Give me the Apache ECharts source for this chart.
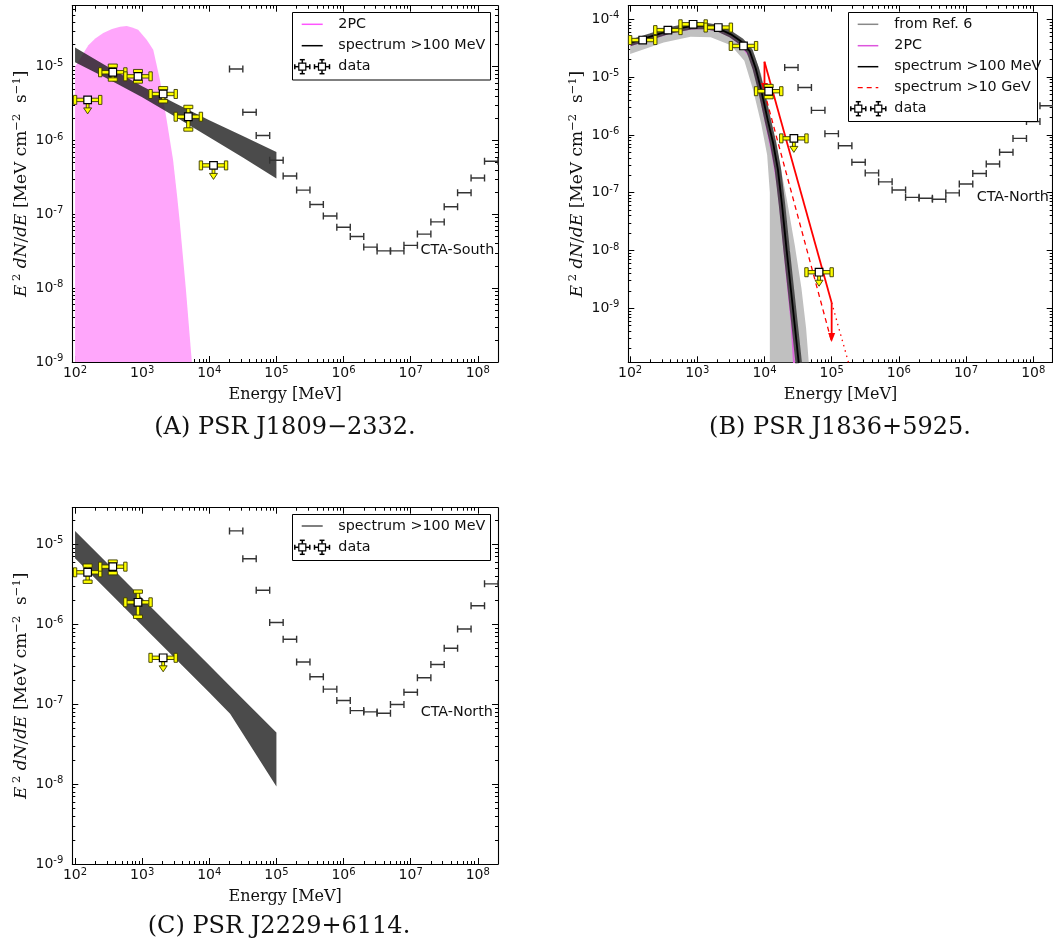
<!DOCTYPE html>
<html><head><meta charset="utf-8">
<script src="https://cdn.jsdelivr.net/npm/echarts@6/dist/echarts.min.js"></script>
<style>html,body{margin:0;padding:0;background:#fff}#c{width:1053px;height:945px}</style>
</head><body><div id="c"></div>
<script>
// ================= DATA =================
// CTA sensitivity bins (MeV) and curves (MeV cm^-2 s^-1)
const ctaBinLo = [2.0e4, 3.16e4, 5.0e4, 7.94e4, 1.26e5, 2.0e5, 3.16e5, 5.0e5, 7.94e5, 1.26e6, 2.0e6, 3.16e6, 5.0e6, 7.94e6, 1.26e7, 2.0e7, 3.16e7, 5.0e7, 7.94e7, 1.26e8];
const ctaBinHi = [3.16e4, 5.0e4, 7.94e4, 1.26e5, 2.0e5, 3.16e5, 5.0e5, 7.94e5, 1.26e6, 2.0e6, 3.16e6, 5.0e6, 7.94e6, 1.26e7, 2.0e7, 3.16e7, 5.0e7, 7.94e7, 1.26e8, 2.0e8];
const ctaSouth = [9.3e-6, 2.41e-6, 1.17e-6, 5.4e-7, 3.3e-7, 2.13e-7, 1.36e-7, 9.5e-8, 6.7e-8, 5.0e-8, 3.6e-8, 3.2e-8, 3.2e-8, 3.8e-8, 5.4e-8, 7.9e-8, 1.27e-7, 1.96e-7, 3.1e-7, 5.25e-7];
const ctaNorth = [1.47e-5, 6.6e-6, 2.66e-6, 1.05e-6, 6.5e-7, 3.37e-7, 2.2e-7, 1.54e-7, 1.11e-7, 8.3e-8, 8.0e-8, 7.7e-8, 9.9e-8, 1.41e-7, 2.14e-7, 3.13e-7, 5.0e-7, 8.7e-7, 1.7e-6, 3.2e-6];

// Fermi-LAT energy bins (MeV)
const binCenter = [154, 365, 866, 2054, 4870, 11548, 27384, 64938];
const binLo = [100, 237, 562, 1334, 3162, 7499, 17783, 42170];
const binHi = [237, 562, 1334, 3162, 7499, 17783, 42170, 100000];

// (A) PSR J1809-2332
const aFlux  = [3.55e-6, 8.4e-6, 7.4e-6, 4.27e-6, 2.1e-6, 4.6e-7];
const aErrLo = [null, 6.7e-6, 6.3e-6, 3.4e-6, 1.41e-6, null];
const aErrHi = [null, 1.03e-5, 8.7e-6, 5.1e-6, 2.85e-6, null];
const aUpperLimit = [true, false, false, false, false, true];
const a2pcE = [100, 126, 158, 200, 263, 355, 468, 589, 708, 871, 1175, 1462, 1841, 2317, 2884, 3311, 3631, 4467, 5495];
const a2pcF = [1.0e-5, 1.41e-5, 1.95e-5, 2.4e-5, 2.85e-5, 3.24e-5, 3.47e-5, 3.55e-5, 3.39e-5, 3.16e-5, 2.29e-5, 1.7e-5, 6.6e-6, 1.9e-6, 5.5e-7, 1.78e-7, 7.9e-8, 1.0e-8, 1.0e-9];
const aBandE  = [100, 316, 1000, 3162, 10000, 31623, 100000];
const aBandHi = [1.82e-5, 9.8e-6, 5.43e-6, 3.16e-6, 1.88e-6, 1.15e-6, 7.0e-7];
const aBandLo = [1.15e-5, 6.76e-6, 3.85e-6, 2.09e-6, 1.11e-6, 5.9e-7, 3.05e-7];

// (B) PSR J1836+5925
const bFlux  = [4.38e-5, 6.5e-5, 8.2e-5, 7.2e-5, 3.46e-5, 5.7e-6, 8.7e-7, 4.2e-9];
const bErrLo = [null, null, null, null, null, 4.5e-6, null, null];
const bErrHi = [null, null, null, null, null, 7.0e-6, null, null];
const bUpperLimit = [false, false, false, false, false, false, true, true];
const bFitE = [100, 200, 398, 794, 1259, 1995, 3162, 4467, 6026, 7413, 8913, 11220, 13490, 15850, 18200, 21380, 25120, 28840, 32360];
const bFitF = [3.89e-5, 5.01e-5, 6.46e-5, 7.59e-5, 7.76e-5, 7.08e-5, 5.5e-5, 4.17e-5, 2.82e-5, 1.41e-5, 6.03e-6, 1.78e-6, 7.08e-7, 2.51e-7, 6.3e-8, 1.0e-8, 1.78e-9, 3.98e-10, 1.12e-10];
const b2pcE = [100, 200, 398, 794, 1259, 1995, 3162, 4467, 6026, 7413, 8913, 11220, 13490, 15850, 18200, 21380, 25120, 27540];
const b2pcF = [3.55e-5, 4.57e-5, 5.89e-5, 6.92e-5, 7.08e-5, 6.46e-5, 5.01e-5, 3.63e-5, 2.29e-5, 1.07e-5, 4.17e-6, 1.12e-6, 3.98e-7, 1.26e-7, 2.82e-8, 3.98e-9, 6.31e-10, 1.12e-10];
const bRefHiE = [100, 316, 794, 1585, 3162, 5012, 7079, 8913, 10720, 15140, 21380, 28180, 35480, 41690, 45710];
const bRefHiF = [4.17e-5, 6.46e-5, 8.13e-5, 8.13e-5, 6.17e-5, 4.17e-5, 2.4e-5, 1.12e-5, 3.98e-6, 6.31e-7, 7.94e-8, 1.26e-8, 2.24e-9, 4.47e-10, 1.12e-10];
const bRefLoE = [100, 316, 794, 1585, 3162, 5012, 6761, 8913, 10960, 12020, 12020];
const bRefLoF = [2.51e-5, 3.98e-5, 5.01e-5, 4.9e-5, 3.55e-5, 1.91e-5, 6.03e-6, 1.58e-6, 4.47e-7, 1.0e-7, 1.12e-10];
const bHeUpperE = [1e4, 1e5];
const bHeUpperF = [1.85e-5, 1.25e-9];
const bHeBestE = [1e4, 1e5];
const bHeBestF = [5.5e-6, 2.6e-10];
const bHeExtrapE = [1e5, 1.8e5];
const bHeExtrapF = [1.25e-9, 1.1e-10];
const bArrowE = [1e4, 1e5];
const bArrowFrom = [1.85e-5, 1.25e-9];
const bArrowTo = [5.5e-6, 2.6e-10];

// (C) PSR J2229+6114
const cFlux  = [4.46e-6, 5.25e-6, 1.88e-6, 3.8e-7];
const cErrLo = [3.4e-6, 4.35e-6, 1.24e-6, null];
const cErrHi = [5.4e-6, 6.07e-6, 2.56e-6, null];
const cUpperLimit = [false, false, false, true];
const cBandE  = [100, 316, 1000, 3162, 10000, 20417, 31623, 100000];
const cBandHi = [1.47e-5, 5.57e-6, 2.12e-6, 8.05e-7, 3.06e-7, 1.68e-7, 1.16e-7, 4.43e-8];
const cBandLo = [6.68e-6, 2.54e-6, 9.66e-7, 3.67e-7, 1.40e-7, 7.6e-8, 4.27e-8, 9.3e-9];

// Tick values
const xMajorTicks = [1e2, 1e3, 1e4, 1e5, 1e6, 1e7, 1e8];
const yMajorTicksA = [1e-9, 1e-8, 1e-7, 1e-6, 1e-5];
const yMajorTicksB = [1e-9, 1e-8, 1e-7, 1e-6, 1e-5, 1e-4];
const yMajorTicksC = [1e-9, 1e-8, 1e-7, 1e-6, 1e-5];
const decadeStartsX = [1e1, 1e2, 1e3, 1e4, 1e5, 1e6, 1e7, 1e8];
const decadeStartsY = [1e-10, 1e-9, 1e-8, 1e-7, 1e-6, 1e-5, 1e-4];
const minorMultipliers = [2, 3, 4, 5, 6, 7, 8, 9];

// ================= CHART =================
const SERIF = "'DejaVu Serif', serif";
const SANS = "'DejaVu Sans', sans-serif";
const chart = echarts.init(document.getElementById('c'), null, {renderer: 'canvas'});

function minorTicks(starts, lo, hi) {
  const out = [];
  starts.forEach(d => minorMultipliers.forEach(k => { const v = k * d; if (v > lo && v < hi) out.push(v); }));
  return out;
}
const RICH = {
  b: {fontFamily: SANS, fontSize: 14, color: '#111', lineHeight: 17},
  s: {fontFamily: SANS, fontSize: 10, color: '#111', lineHeight: 9, verticalAlign: 'top'}
};
function powLabel(v) { const e = Math.round(Math.log10(v)); return '{b|10}{s|' + e + '}'; }

const grids = [
  {left: 72.3, top: 5.7, width: 425.7, height: 356.3},
  {left: 628.3, top: 5.7, width: 424.4, height: 356.6},
  {left: 72.3, top: 507.7, width: 425.7, height: 356.3}
];
const xRanges = [[91, 2e8], [94, 1.95e8], [91, 2e8]];
const yRanges = [[1e-9, 6.7e-5], [1.16e-10, 1.72e-4], [1e-9, 2.87e-5]];
const yMajors = [yMajorTicksA, yMajorTicksB, yMajorTicksC];
const yName = '{i|E}{s| 2}{n| }{i|dN}{n|/}{i|dE}{n| [MeV cm}{s|−2}{n|  s}{s|−1}{n|]}';
const yNameRich = {
  i: {fontFamily: SERIF, fontStyle: 'italic', fontSize: 17, color: '#111', lineHeight: 21},
  n: {fontFamily: SERIF, fontSize: 17, color: '#111', lineHeight: 21},
  s: {fontFamily: SERIF, fontSize: 11.5, color: '#111', lineHeight: 11, verticalAlign: 'top'}
};

const xAxes = [], yAxes = [];
const XI = [], YI = [];
const LINE = {show: true, lineStyle: {color: '#000', width: 1.1}};
grids.forEach((g, gi) => {
  const xr = xRanges[gi], yr = yRanges[gi];
  const bx = {gridIndex: gi, type: 'log', logBase: 10, min: xr[0], max: xr[1], splitLine: {show: false}, minorTick: {show: false}, silent: true};
  const by = {gridIndex: gi, type: 'log', logBase: 10, min: yr[0], max: yr[1], splitLine: {show: false}, minorTick: {show: false}, silent: true};
  const xMinor = minorTicks(decadeStartsX, xr[0], xr[1]);
  const yMinor = minorTicks(decadeStartsY, yr[0], yr[1]);
  XI.push(xAxes.length);
  xAxes.push(Object.assign({}, bx, {
    position: 'bottom', axisLine: LINE,
    axisTick: {show: true, inside: true, length: 6, customValues: xMajorTicks, lineStyle: {color: '#000', width: 1}},
    axisLabel: {show: true, customValues: xMajorTicks, formatter: powLabel, margin: 3, rich: RICH},
    name: 'Energy [MeV]', nameLocation: 'middle', nameGap: 25,
    nameTextStyle: {fontFamily: SERIF, fontSize: 16, color: '#111'}
  }));
  xAxes.push(Object.assign({}, bx, {position: 'bottom', axisLine: {show: false},
    axisTick: {show: true, inside: true, length: 3, customValues: xMinor, lineStyle: {color: '#000', width: 1}}, axisLabel: {show: false}}));
  xAxes.push(Object.assign({}, bx, {position: 'top', axisLine: LINE,
    axisTick: {show: true, inside: true, length: 6, customValues: xMajorTicks, lineStyle: {color: '#000', width: 1}}, axisLabel: {show: false}}));
  xAxes.push(Object.assign({}, bx, {position: 'top', axisLine: {show: false},
    axisTick: {show: true, inside: true, length: 3, customValues: xMinor, lineStyle: {color: '#000', width: 1}}, axisLabel: {show: false}}));

  YI.push(yAxes.length);
  yAxes.push(Object.assign({}, by, {
    position: 'left', axisLine: LINE,
    axisTick: {show: true, inside: true, length: 6, customValues: yMajors[gi], lineStyle: {color: '#000', width: 1}},
    axisLabel: {show: true, customValues: yMajors[gi], formatter: powLabel, margin: 9, rich: RICH},
    name: yName, nameLocation: 'middle', nameRotate: 90, nameGap: 40,
    nameTextStyle: {rich: yNameRich}
  }));
  yAxes.push(Object.assign({}, by, {position: 'left', axisLine: {show: false},
    axisTick: {show: true, inside: true, length: 3, customValues: yMinor, lineStyle: {color: '#000', width: 1}}, axisLabel: {show: false}}));
  yAxes.push(Object.assign({}, by, {position: 'right', axisLine: LINE,
    axisTick: {show: true, inside: true, length: 6, customValues: yMajors[gi], lineStyle: {color: '#000', width: 1}}, axisLabel: {show: false}}));
  yAxes.push(Object.assign({}, by, {position: 'right', axisLine: {show: false},
    axisTick: {show: true, inside: true, length: 3, customValues: yMinor, lineStyle: {color: '#000', width: 1}}, axisLabel: {show: false}}));
});

function ax(gi) { return {xAxisIndex: XI[gi], yAxisIndex: YI[gi]}; }

function bandSeries(name, gi, hiE, hiF, loE, loF, color, z) {
  const pts = hiE.map((e, i) => [e, hiF[i]]).concat(loE.map((e, i) => [e, loF[i]]).reverse());
  return Object.assign({
    type: 'custom', name, clip: true, z, silent: true,
    data: [[hiE[0], hiF[0]]],
    renderItem(params, api) {
      return {type: 'polygon', shape: {points: pts.map(p => api.coord(p))}, style: {fill: color}};
    }
  }, ax(gi));
}
function lineSeries(name, gi, E, F, color, width, dash, z, opacity) {
  return Object.assign({
    type: 'line', name, z, silent: true, symbol: 'none', showSymbol: false, clip: true,
    data: E.map((e, i) => [e, F[i]]),
    lineStyle: {color, width, type: dash || 'solid', opacity: opacity == null ? 1 : opacity}
  }, ax(gi));
}
function ctaSeries(name, gi, vals) {
  return Object.assign({
    type: 'custom', name, z: 5, silent: true, clip: true,
    data: vals.map((v, i) => [ctaBinLo[i], v, ctaBinHi[i]]),
    renderItem(params, api) {
      const p0 = api.coord([api.value(0), api.value(1)]);
      const p1 = api.coord([api.value(2), api.value(1)]);
      const st = {stroke: '#333', lineWidth: 1.4};
      return {type: 'group', children: [
        {type: 'line', shape: {x1: p0[0], y1: p0[1], x2: p1[0], y2: p1[1]}, style: st},
        {type: 'line', shape: {x1: p0[0], y1: p0[1] - 3.5, x2: p0[0], y2: p0[1] + 3.5}, style: st},
        {type: 'line', shape: {x1: p1[0], y1: p1[1] - 3.5, x2: p1[0], y2: p1[1] + 3.5}, style: st}
      ]};
    }
  }, ax(gi));
}
function pointSeries(gi, F, Flo, Fhi, UL) {
  const YEL = '#ffff00', EDGE = '#3a3a00';
  return Object.assign({
    type: 'custom', name: 'data', z: 8, silent: true,
    data: F.map((f, i) => [binCenter[i], f, i]),
    renderItem(params, api) {
      const i = api.value(2);
      const c = api.coord([binCenter[i], F[i]]);
      const xl = api.coord([binLo[i], F[i]])[0];
      const xh = api.coord([binHi[i], F[i]])[0];
      const st = {fill: YEL, stroke: EDGE, lineWidth: 0.9};
      const kids = [];
      kids.push({type: 'rect', shape: {x: xl, y: c[1] - 1.7, width: xh - xl, height: 3.4}, style: st});
      if (Flo[i] != null && !UL[i]) {
        const yl = api.coord([binCenter[i], Flo[i]])[1];
        const yh = api.coord([binCenter[i], Fhi[i]])[1];
        kids.push({type: 'rect', shape: {x: c[0] - 1.7, y: yh, width: 3.4, height: yl - yh}, style: st});
        kids.push({type: 'rect', shape: {x: c[0] - 4.5, y: yh - 1.7, width: 9, height: 3.4}, style: st});
        kids.push({type: 'rect', shape: {x: c[0] - 4.5, y: yl - 1.7, width: 9, height: 3.4}, style: st});
      }
      kids.push({type: 'rect', shape: {x: xl - 1.7, y: c[1] - 4.5, width: 3.4, height: 9}, style: st});
      kids.push({type: 'rect', shape: {x: xh - 1.7, y: c[1] - 4.5, width: 3.4, height: 9}, style: st});
      if (UL[i]) {
        kids.push({type: 'rect', shape: {x: c[0] - 1.4, y: c[1], width: 2.8, height: 9}, style: st});
        kids.push({type: 'polygon', shape: {points: [[c[0] - 4, c[1] + 8], [c[0] + 4, c[1] + 8], [c[0], c[1] + 14]]}, style: st});
      }
      kids.push({type: 'rect', shape: {x: c[0] - 3.8, y: c[1] - 3.8, width: 7.6, height: 7.6}, style: {fill: '#fff', stroke: '#000', lineWidth: 1.2}});
      return {type: 'group', children: kids};
    }
  }, ax(gi));
}
function arrowSeries(gi, E, from, to) {
  return Object.assign({
    type: 'custom', name: 'spectrum >10 GeV', z: 6, silent: true,
    data: E.map((e, i) => [e, from[i], to[i]]),
    renderItem(params, api) {
      const p0 = api.coord([api.value(0), api.value(1)]);
      const p1 = api.coord([api.value(0), api.value(2)]);
      return {type: 'group', children: [
        {type: 'line', shape: {x1: p0[0], y1: p0[1], x2: p1[0], y2: p1[1] - 5}, style: {stroke: '#f00', lineWidth: 1.8}},
        {type: 'polygon', shape: {points: [[p1[0] - 3.5, p1[1] - 9], [p1[0] + 3.5, p1[1] - 9], [p1[0], p1[1]]]}, style: {fill: '#f00'}}
      ]};
    }
  }, ax(gi));
}

const series = [
  // Panel A
  Object.assign({
    type: 'line', name: '2PC', z: 1, silent: true, symbol: 'none', showSymbol: false,
    data: a2pcE.map((e, i) => [e, a2pcF[i]]),
    lineStyle: {width: 0}, areaStyle: {color: '#ffa6fb', opacity: 1, origin: 'start'}
  }, ax(0)),
  bandSeries('spectrum >100 MeV', 0, aBandE, aBandHi, aBandE, aBandLo, 'rgba(30,30,30,0.8)', 3),
  ctaSeries('CTA-South', 0, ctaSouth),
  pointSeries(0, aFlux, aErrLo, aErrHi, aUpperLimit),
  // Panel B
  bandSeries('from Ref. 6', 1, bRefHiE, bRefHiF, bRefLoE, bRefLoF, '#c0c0c0', 1),
  lineSeries('2PC', 1, b2pcE, b2pcF, '#dd66dd', 2, 'solid', 2),
  lineSeries('spectrum >100 MeV band', 1, bFitE, bFitF, '#3a3a3a', 6.5, 'solid', 3, 0.85),
  lineSeries('spectrum >100 MeV', 1, bFitE, bFitF, '#000', 1.8, 'solid', 4),
  lineSeries('spectrum >10 GeV upper', 1, bHeUpperE, bHeUpperF, '#f00', 1.8, 'solid', 6),
  lineSeries('spectrum >10 GeV', 1, bHeBestE, bHeBestF, '#f00', 1.3, [5, 4], 6),
  lineSeries('spectrum >10 GeV extrapolation', 1, bHeExtrapE, bHeExtrapF, '#f00', 1.3, [1.5, 4], 6),
  arrowSeries(1, bArrowE, bArrowFrom, bArrowTo),
  ctaSeries('CTA-North', 1, ctaNorth),
  pointSeries(1, bFlux, bErrLo, bErrHi, bUpperLimit),
  // Panel C
  bandSeries('spectrum >100 MeV', 2, cBandE, cBandHi, cBandE, cBandLo, 'rgba(30,30,30,0.8)', 3),
  ctaSeries('CTA-North', 2, ctaNorth),
  pointSeries(2, cFlux, cErrLo, cErrHi, cUpperLimit)
];

// ---------- legends / labels (graphic) ----------
function txt(x, y, s, size, family, align) {
  return {type: 'text', x, y, z: 100, silent: true,
    style: {text: s, fontSize: size, fontFamily: family, fill: '#111', align: align || 'left', verticalAlign: 'middle', textAlign: align || 'left', textVerticalAlign: 'middle'}};
}
function hline(x1, x2, y, color, w, dash) {
  return {type: 'line', z: 100, silent: true, shape: {x1, y1: y, x2, y2: y}, style: {stroke: color, lineWidth: w, lineDash: dash || null}};
}
function dataIcon(cx, cy) {
  const st = {stroke: '#000', lineWidth: 1.5};
  const L = (x1, y1, x2, y2) => ({type: 'line', z: 100, silent: true, shape: {x1, y1, x2, y2}, style: st});
  return [
    L(cx - 7.5, cy, cx + 7.5, cy), L(cx, cy - 7, cx, cy + 7),
    L(cx - 7.5, cy - 2.5, cx - 7.5, cy + 2.5), L(cx + 7.5, cy - 2.5, cx + 7.5, cy + 2.5),
    L(cx - 2.5, cy - 7, cx + 2.5, cy - 7), L(cx - 2.5, cy + 7, cx + 2.5, cy + 7),
    {type: 'rect', z: 101, silent: true, shape: {x: cx - 3.5, y: cy - 3.5, width: 7, height: 7}, style: {fill: '#fff', stroke: '#000', lineWidth: 1.2}}
  ];
}
function box(x, y, w, h) {
  return {type: 'rect', z: 99, silent: true, shape: {x, y, width: w, height: h}, style: {fill: '#fff', stroke: '#000', lineWidth: 1}};
}
const LFS = 14.3;
const graphics = [].concat(
  // Legend A
  [box(292.5, 12.5, 198, 67.5),
   hline(301.7, 322.7, 24.3, '#ff55ff', 1.5), txt(338.3, 24.3, '2PC', LFS, SANS),
   hline(301.7, 322.7, 45.7, '#000', 1.5), txt(338.3, 45.7, 'spectrum >100 MeV', LFS, SANS),
   txt(338.3, 66.7, 'data', LFS, SANS)],
  dataIcon(302.3, 66.7), dataIcon(322, 66.7),
  // Legend B
  [box(848.5, 12.5, 189, 109),
   hline(857.7, 878.3, 24.3, '#888', 1.5), txt(894.3, 24.3, 'from Ref. 6', LFS, SANS),
   hline(857.7, 878.3, 45.7, '#dd55dd', 1.5), txt(894.3, 45.7, '2PC', LFS, SANS),
   hline(857.7, 878.3, 66.7, '#000', 1.5), txt(894.3, 66.7, 'spectrum >100 MeV', LFS, SANS),
   hline(857.7, 878.3, 87.7, '#f00', 1.3, [5, 4]), txt(894.3, 87.7, 'spectrum >10 GeV', LFS, SANS),
   txt(894.3, 108.7, 'data', LFS, SANS)],
  dataIcon(858.3, 108.7), dataIcon(878.3, 108.7),
  // Legend C
  [box(292.5, 514.5, 198, 46),
   hline(301.7, 322.7, 526, '#555', 1.5), txt(338.3, 526, 'spectrum >100 MeV', LFS, SANS),
   txt(338.3, 547.3, 'data', LFS, SANS)],
  dataIcon(302.3, 547.3), dataIcon(322, 547.3),
  // CTA labels
  [txt(420.5, 250, 'CTA-South', LFS, SANS), txt(976.7, 197.7, 'CTA-North', LFS, SANS), txt(420.7, 712.3, 'CTA-North', LFS, SANS)],
  // captions
  [txt(285, 428, '(A) PSR J1809−2332.', 24, SERIF, 'center'),
   txt(840, 428, '(B) PSR J1836+5925.', 24, SERIF, 'center'),
   txt(279, 927, '(C) PSR J2229+6114.', 24, SERIF, 'center')]
);

chart.setOption({
  animation: false,
  backgroundColor: '#fff',
  grid: grids.map(g => Object.assign({containLabel: false}, g)),
  xAxis: xAxes,
  yAxis: yAxes,
  series,
  graphic: {elements: graphics}
});
</script></body></html>
